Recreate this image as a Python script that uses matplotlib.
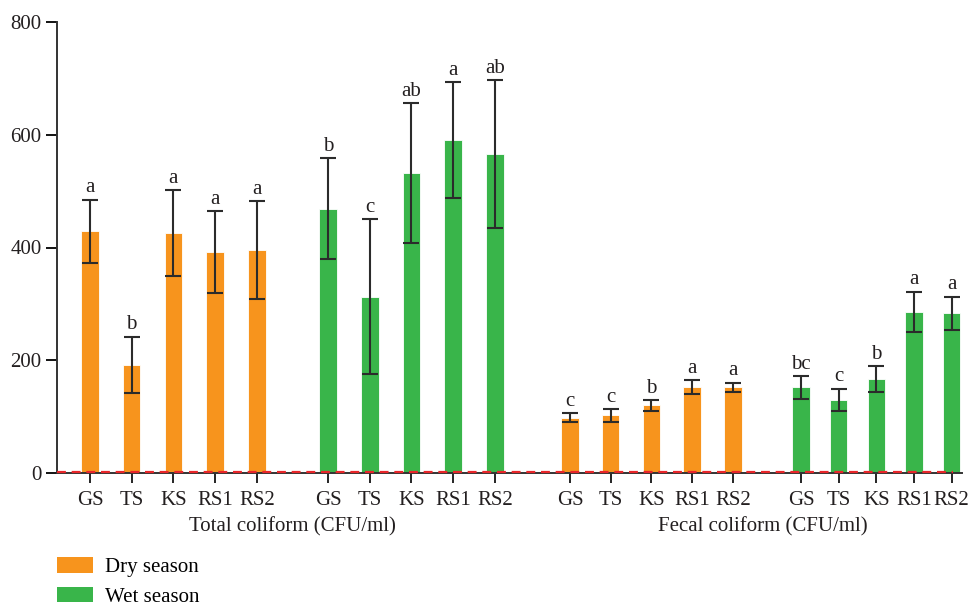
import numpy as np
import matplotlib.pyplot as plt
from matplotlib.patches import Patch

plt.rcParams["font.family"] = ["Liberation Serif", "DejaVu Serif"]

sites = ["GS", "TS", "KS", "RS1", "RS2"]

# total coliform (CFU/ml)
total_dry = [429, 192, 426, 392, 395]
total_dry_err = [56, 50, 76, 72, 87]
total_dry_sig = ["a", "b", "a", "a", "a"]
total_wet = [469, 313, 532, 591, 566]
total_wet_err = [90, 137, 124, 103, 131]
total_wet_sig = ["b", "c", "ab", "a", "ab"]

# fecal coliform (CFU/ml)
fecal_dry = [98, 102, 120, 152, 152]
fecal_dry_err = [8, 11, 9.5, 12.5, 8.5]
fecal_dry_sig = ["c", "c", "b", "a", "a"]
fecal_wet = [152, 130, 167, 286, 283]
fecal_wet_err = [20, 19.5, 23, 35.5, 30]
fecal_wet_sig = ["bc", "c", "b", "a", "a"]

DRY = "#f7941d"
WET = "#39b54a"
INK = "#231f20"

fig = plt.figure(figsize=(9.68, 6.10), dpi=100)
ax = fig.add_axes([57 / 968, 137 / 610, 905 / 968, 451 / 610])

groups = [
    (0.0, 1.0, total_dry, total_dry_err, total_dry_sig, DRY),
    (5.71, 1.0, total_wet, total_wet_err, total_wet_sig, WET),
    (11.51, 0.977, fecal_dry, fecal_dry_err, fecal_dry_sig, DRY),
    (17.05, 0.903, fecal_wet, fecal_wet_err, fecal_wet_sig, WET),
]

ticks, ticklabels = [], []
for start, step, vals, errs, sig, col in groups:
    x = start + step * np.arange(len(vals))
    ax.bar(x, vals, width=0.42, color=col, edgecolor="#ffffff", linewidth=0.6,
           zorder=2)
    ax.errorbar(x, vals, yerr=errs, fmt="none", ecolor="#2b2b2b", elinewidth=1.5,
                capsize=6, capthick=1.5, zorder=3)
    for xi, v, e, s in zip(x, vals, errs, sig):
        ax.text(xi, v + e + 4, s, ha="center", va="bottom", fontsize=15, color=INK)
    ticks.extend(x)
    ticklabels.extend(sites)

ax.set_xticks(ticks)
ax.set_xticklabels(ticklabels, fontsize=15, color=INK)
ax.set_xlim(-0.79, 20.91)
ax.set_ylim(0, 800)
ax.set_yticks([0, 200, 400, 600, 800])
ax.tick_params(axis="y", labelsize=15, labelcolor=INK, length=8, width=1.3,
               direction="out", pad=3)
ax.tick_params(axis="x", length=7, width=1.2, direction="out", pad=6)

for side in ["top", "right"]:
    ax.spines[side].set_visible(False)
for side in ["left", "bottom"]:
    ax.spines[side].set_linewidth(1.4)
    ax.spines[side].set_color("#333333")

# zero reference line
ax.plot([-0.79, 20.7], [1.5, 1.5], color="#e8262a", linestyle=(0, (4, 2.6)),
        linewidth=1.6, zorder=4, clip_on=False)

# group captions under the tick labels
ax.text(4.86, -96, "Total coliform (CFU/ml)", ha="center", va="center",
        fontsize=15, color=INK)
ax.text(16.13, -96, "Fecal coliform (CFU/ml)", ha="center", va="center",
        fontsize=15, color=INK)

handles = [Patch(facecolor=DRY, edgecolor="none"), Patch(facecolor=WET, edgecolor="none")]
fig.legend(handles, ["Dry season", "Wet season"], loc="upper left",
           bbox_to_anchor=(0.059, 0.087), frameon=False, fontsize=15,
           handlelength=1.7, handleheight=0.8, handletextpad=0.6,
           labelspacing=0.45, borderaxespad=0, borderpad=0)

fig.savefig("out.png", dpi=100)
